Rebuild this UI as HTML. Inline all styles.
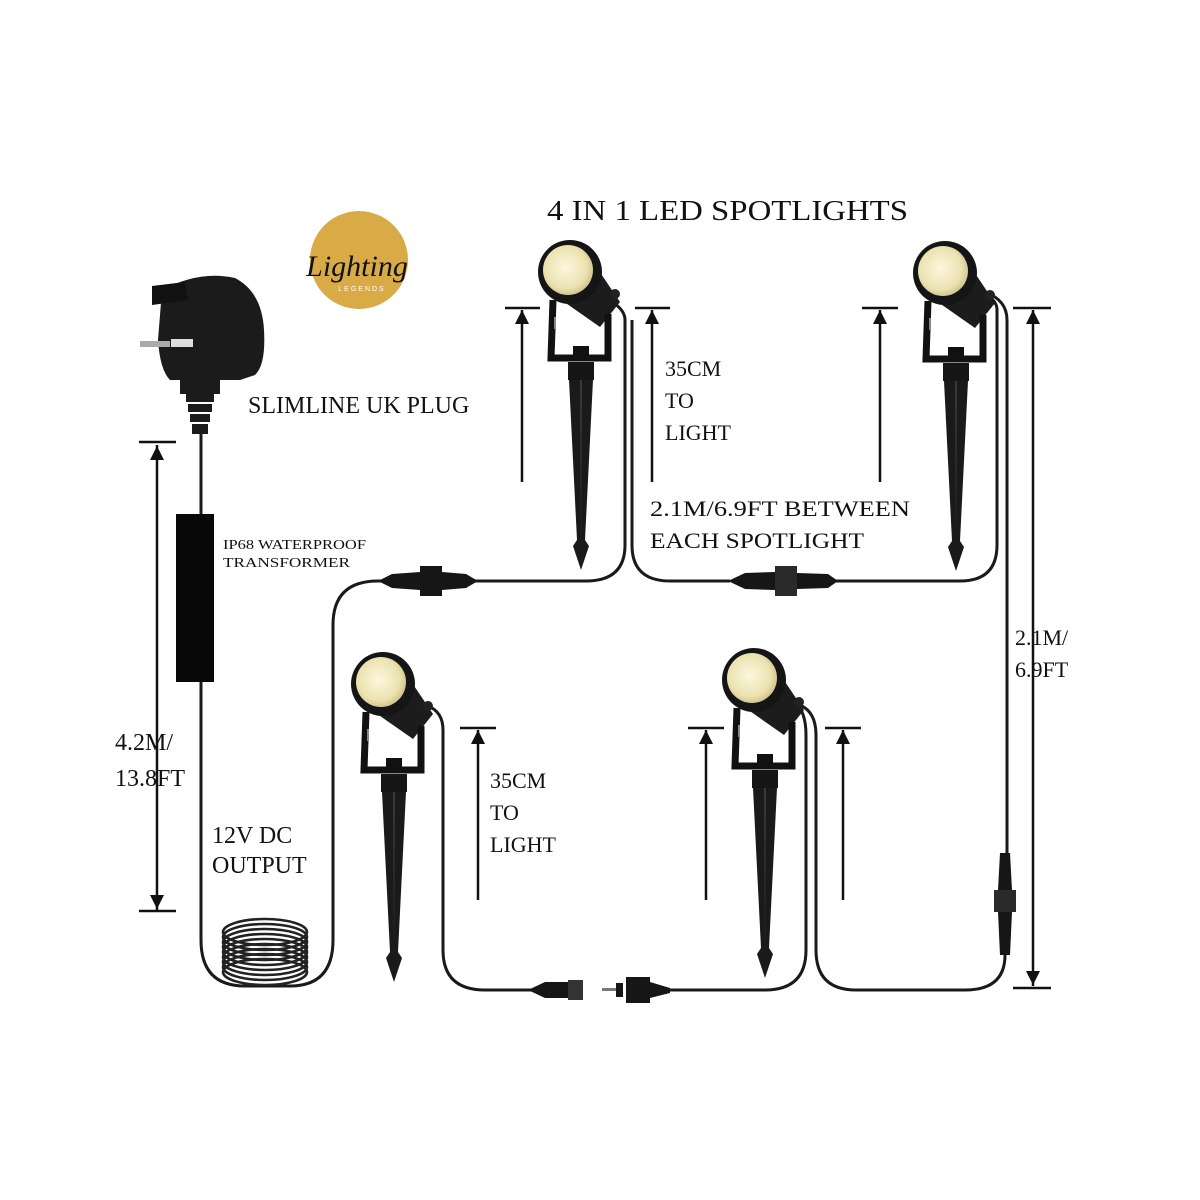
<!DOCTYPE html>
<html><head><meta charset="utf-8"><style>
html,body{margin:0;padding:0;background:#fff;}
svg{display:block;}
text{font-family:"Liberation Serif",serif;fill:#111;}
</style></head><body>
<svg width="1200" height="1200" viewBox="0 0 1200 1200" xmlns="http://www.w3.org/2000/svg">
<defs>
<radialGradient id="lens" cx="0.45" cy="0.45" r="0.6">
<stop offset="0" stop-color="#fbf7de"/><stop offset="0.7" stop-color="#ece2b0"/><stop offset="1" stop-color="#c9bd88"/>
</radialGradient>
<g id="spot">
<path d="M-20,20 L30,55 L50,30 L15,-22 Z" fill="#1c1c1c"/>
<circle cx="45" cy="22" r="5" fill="#222"/>
<path d="M-17,28 L-19,86 L38,86 L38,42" fill="none" stroke="#111" stroke-width="7"/>
<rect x="-16" y="45" width="2" height="12" fill="#888"/>
<rect x="3" y="74" width="16" height="14" fill="#111"/>
<rect x="-2" y="90" width="26" height="18" fill="#151515"/>
<path d="M-1,108 L23,108 L15,268 L19,274 L11,298 L3,274 L7,268 Z" fill="#1a1a1a"/>
<path d="M10,108 L12,108 L11,268 Z" fill="#3a3a3a"/>
<circle cx="0" cy="0" r="32" fill="#151515"/>
<circle cx="-2" cy="-2" r="25" fill="url(#lens)"/>
</g>
</defs>

<text x="547" y="220" font-size="28" textLength="361" lengthAdjust="spacingAndGlyphs">4 IN 1 LED SPOTLIGHTS</text>

<circle cx="359" cy="260" r="49" fill="#d8ab47"/>
<text x="357" y="276" font-size="30" font-style="italic" text-anchor="middle" fill="#1a1a1a">Lighting</text>
<text x="362" y="291" font-size="7" text-anchor="middle" style="fill:#fff;font-family:'Liberation Sans',sans-serif;letter-spacing:2px">LEGENDS</text>

<path d="M162,290 Q200,270 235,278 Q262,292 264,330 Q266,365 255,375 L240,380 L170,380 Q160,370 158,340 Z" fill="#1b1b1b"/>
<path d="M152,286 L185,282 L188,300 L152,305 Z" fill="#111"/>
<rect x="140" y="341" width="30" height="6" fill="#aaa"/>
<rect x="171" y="339" width="22" height="8" fill="#ddd"/>
<rect x="180" y="380" width="40" height="14" fill="#1b1b1b"/>
<path d="M186,394 h28 v8 h-28 z M188,404 h24 v8 h-24 z M190,414 h20 v8 h-20 z M192,424 h16 v10 h-16 z" fill="#1b1b1b"/>

<g fill="none" stroke="#1a1a1a" stroke-width="3">
<path d="M201,434 L201,514"/>
<path d="M201,682 L201,940 Q201,986 245,986 L290,986 Q333,986 333,940 L333,625 Q333,581 378,581 L395,581"/>
<path d="M465,581 L586,581 Q625,581 625,545 L625,320 Q625,310 612,302"/>
<path d="M632,320 L632,545 Q632,581 670,581 L730,581"/>
<path d="M833,581 L960,581 Q997,581 997,545 L997,310 Q997,300 985,295"/>
<path d="M985,292 Q1007,300 1007,320 L1007,855"/>
<path d="M1005,955 Q1005,990 965,990 L856,990 Q816,990 816,950 L816,735 Q816,712 800,705"/>
<path d="M795,702 Q806,712 806,735 L806,950 Q806,990 765,990 L670,990"/>
<path d="M540,990 L485,990 Q443,990 443,950 L443,730 Q443,712 428,706"/>
</g>

<rect x="176" y="514" width="38" height="168" fill="#080808"/>

<g fill="none" stroke="#222" stroke-width="2.6">
<ellipse cx="265" cy="932" rx="42" ry="13"/>
<ellipse cx="265" cy="937" rx="42" ry="13"/>
<ellipse cx="265" cy="942" rx="42" ry="13"/>
<ellipse cx="265" cy="947" rx="42" ry="13"/>
<ellipse cx="265" cy="952" rx="42" ry="13"/>
<ellipse cx="265" cy="957" rx="42" ry="13"/>
<ellipse cx="265" cy="962" rx="42" ry="13"/>
<ellipse cx="265" cy="967" rx="42" ry="13"/>
<ellipse cx="265" cy="972" rx="42" ry="13"/>
</g>

<g fill="#161616">
<path d="M378,581 L392,574 L420,572 L420,590 L392,588 Z"/>
<rect x="420" y="566" width="22" height="30"/>
<path d="M442,572 L466,574 L478,581 L466,588 L442,590 Z"/>
<path d="M728,581 L745,573 L775,572 L775,590 L745,589 Z"/>
<rect x="775" y="566" width="22" height="30" fill="#2a2a2a"/>
<path d="M797,573 L828,574 L838,581 L828,588 L797,589 Z"/>
<path d="M1000,853 L1010,853 L1012,890 L998,890 Z"/>
<rect x="994" y="890" width="22" height="22" fill="#2a2a2a"/>
<path d="M998,912 L1012,912 L1010,955 L1000,955 Z"/>
<path d="M528,990 L545,982 L568,982 L568,998 L545,998 Z"/>
<rect x="568" y="980" width="15" height="20" fill="#333"/>
<rect x="602" y="988" width="14" height="3" fill="#777"/>
<rect x="616" y="983" width="7" height="14"/>
<rect x="626" y="977" width="24" height="26"/>
<path d="M650,982 L670,988 L670,993 L650,998 Z"/>
</g>

<use href="#spot" x="570" y="272"/>
<use href="#spot" x="945" y="273"/>
<use href="#spot" x="383" y="684"/>
<use href="#spot" x="754" y="680"/>

<g stroke="#111" stroke-width="2.5" fill="none">
<path d="M139,442 H176 M157,445 V910 M139,911 H176"/>
<path d="M505,308 H540 M522,310 V482"/>
<path d="M635,308 H670 M652,310 V482"/>
<path d="M862,308 H898 M880,310 V482"/>
<path d="M1013,308 H1051 M1033,310 V986 M1013,988 H1051"/>
<path d="M460,728 H496 M478,730 V900"/>
<path d="M688,728 H724 M706,730 V900"/>
<path d="M825,728 H861 M843,730 V900"/>
</g>
<g fill="#111">
<path d="M150,460 L157,446 L164,460 Z M150,895 L157,909 L164,895 Z"/>
<path d="M515,324 L522,310 L529,324 Z"/>
<path d="M645,324 L652,310 L659,324 Z"/>
<path d="M873,324 L880,310 L887,324 Z"/>
<path d="M1026,324 L1033,310 L1040,324 Z M1026,971 L1033,985 L1040,971 Z"/>
<path d="M471,744 L478,730 L485,744 Z"/>
<path d="M699,744 L706,730 L713,744 Z"/>
<path d="M836,744 L843,730 L850,744 Z"/>
</g>

<text x="248" y="413" font-size="24">SLIMLINE UK PLUG</text>
<text x="223" y="549" font-size="14" textLength="143" lengthAdjust="spacingAndGlyphs">IP68 WATERPROOF</text>
<text x="223" y="567" font-size="14" textLength="127" lengthAdjust="spacingAndGlyphs">TRANSFORMER</text>
<text x="115" y="750" font-size="24">4.2M/</text>
<text x="115" y="786" font-size="24">13.8FT</text>
<text x="212" y="843" font-size="24">12V DC</text>
<text x="212" y="873" font-size="24">OUTPUT</text>
<text x="665" y="376" font-size="22">35CM</text>
<text x="665" y="408" font-size="22">TO</text>
<text x="665" y="440" font-size="22">LIGHT</text>
<text x="650" y="516" font-size="22" textLength="260" lengthAdjust="spacingAndGlyphs">2.1M/6.9FT BETWEEN</text>
<text x="650" y="548" font-size="22" textLength="214" lengthAdjust="spacingAndGlyphs">EACH SPOTLIGHT</text>
<text x="1015" y="645" font-size="22">2.1M/</text>
<text x="1015" y="677" font-size="22">6.9FT</text>
<text x="490" y="788" font-size="22">35CM</text>
<text x="490" y="820" font-size="22">TO</text>
<text x="490" y="852" font-size="22">LIGHT</text>
</svg>
</body></html>
